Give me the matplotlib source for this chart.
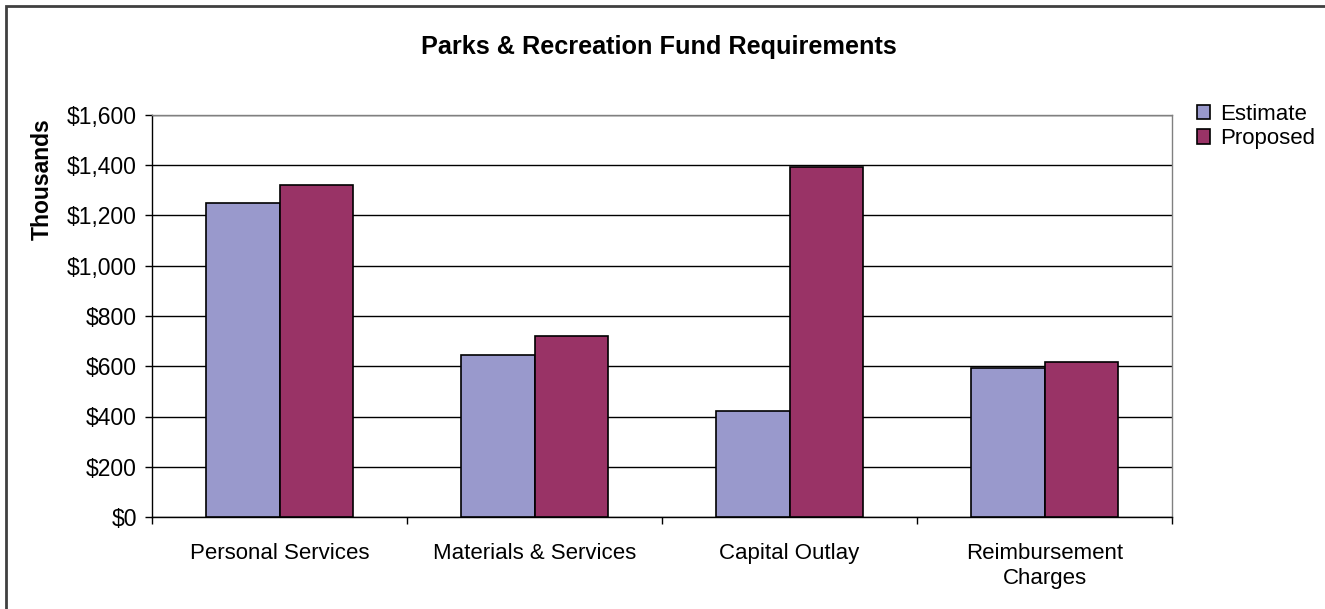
import matplotlib.pyplot as plt
from matplotlib.patches import Rectangle
from matplotlib.ticker import FuncFormatter, FixedLocator
import numpy as np

categories = ["Personal Services", "Materials & Services", "Capital Outlay", "Reimbursement\nCharges"]
estimate = [1250, 645, 420, 592]
proposed = [1320, 720, 1395, 617]

plt.rcParams['font.family'] = ['Liberation Sans', 'DejaVu Sans']

fig = plt.figure(figsize=(13.25, 6.09), dpi=100)
W, H = 1325, 609
ax = fig.add_axes([152 / W, 1 - 517 / H, (1172 - 152) / W, (517 - 115) / H])

x = np.arange(len(categories))
bw = 0.288
ax.bar(x - bw / 2, estimate, bw, color='#9999CC', edgecolor='black', linewidth=1.2,
       label='Estimate', zorder=3)
ax.bar(x + bw / 2, proposed, bw, color='#993366', edgecolor='black', linewidth=1.2,
       label='Proposed', zorder=3)

ax.set_xlim(-0.5, len(categories) - 0.5)
ax.set_ylim(0, 1600)
ax.set_yticks(range(0, 1601, 200))
ax.yaxis.set_major_formatter(FuncFormatter(lambda v, p: f"${v:,.0f}"))
ax.grid(axis='y', color='black', linewidth=1, zorder=0)

# category labels at centres, tick marks on the boundaries
ax.set_xticks(x)
ax.set_xticklabels(categories, fontsize=16, linespacing=1.2)
ax.xaxis.set_minor_locator(FixedLocator(np.arange(-0.5, len(categories), 1.0)))
ax.tick_params(axis='x', which='major', length=0, pad=19)
ax.tick_params(axis='x', which='minor', length=5, width=1, direction='out')
ax.tick_params(axis='y', length=5, width=1, pad=6, labelsize=16.5)

for side in ['top', 'right']:
    ax.spines[side].set_color('#808080')
    ax.spines[side].set_linewidth(1)
for side in ['left', 'bottom']:
    ax.spines[side].set_color('black')
    ax.spines[side].set_linewidth(1)

fig.text(659 / W, 1 - 47 / H, "Parks & Recreation Fund Requirements",
         ha='center', va='center', fontsize=18.2, fontweight='bold')
fig.text(42 / W, 1 - 179 / H, "Thousands", rotation=90, ha='center', va='center',
         fontsize=16.5, fontweight='bold')

fig.legend(loc='upper left', bbox_to_anchor=(1197 / W, 1 - 104 / H), frameon=False,
           fontsize=16, handlelength=0.6, handleheight=0.6, handletextpad=0.45,
           labelspacing=0.15, borderaxespad=0, borderpad=0)

# outer chart frame, running off the right and bottom edges
fig.patches.append(Rectangle((6 / W, -0.1), 1.2, 1 - 6 / H + 0.1, transform=fig.transFigure,
                             fill=False, edgecolor='#404040', linewidth=2))

fig.savefig("out.png", dpi=100)
